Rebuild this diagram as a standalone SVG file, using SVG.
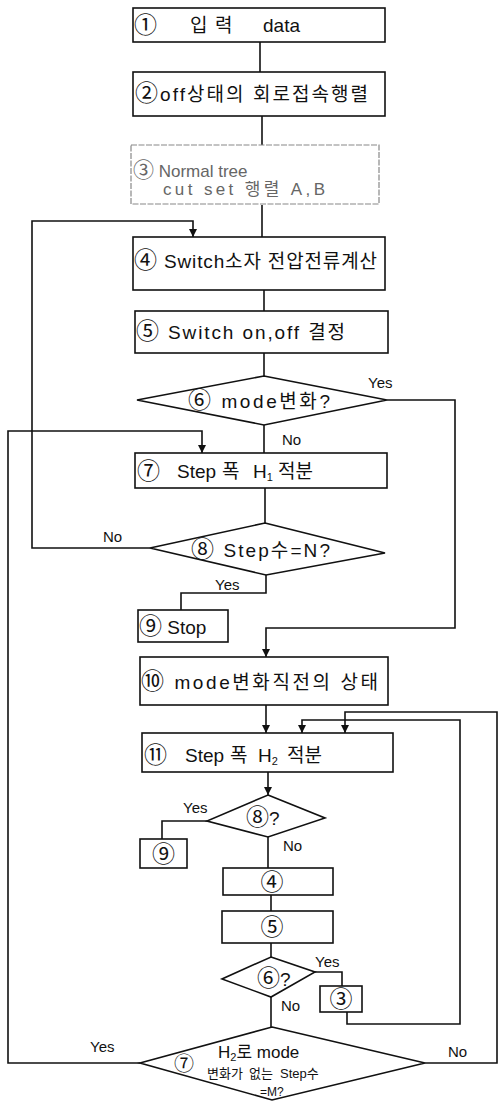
<svg xmlns="http://www.w3.org/2000/svg" width="500" height="1103" viewBox="0 0 500 1103">
<style>
.box{fill:#fff;stroke:#111;stroke-width:1.6}
.faint{fill:#fff;stroke:#888;stroke-width:1.2;stroke-dasharray:6 1.5}
.t{font-family:"Liberation Sans","Noto Sans CJK KR",sans-serif;font-size:19px;fill:#111}
.tf{font-family:"Liberation Sans","Noto Sans CJK KR",sans-serif;font-size:17px;fill:#666}
.n{font-family:"Noto Sans CJK KR",sans-serif;font-size:23px}
.lb{font-family:"Liberation Sans","Noto Sans CJK KR",sans-serif;font-size:15px;fill:#111}
.c{fill:none;stroke:#111;stroke-width:1.6}
.sub{font-size:11px}
</style>
<defs>
<marker id="ah" viewBox="0 0 10 10" refX="10" refY="5" markerWidth="8" markerHeight="8" markerUnits="userSpaceOnUse" orient="auto">
<path d="M0,0 L10,5 L0,10 z" fill="#111"/>
</marker>
</defs>

<g id="connectors">
<path class="c" d="M260 42 V72"/>
<path class="c" d="M262 116 V145"/>
<path class="c" d="M262 205 V237"/>
<path class="c" d="M264 290 V311"/>
<path class="c" d="M264 353 V376"/>
<path class="c" d="M264 425 V453"/>
<path class="c" d="M265 488 V523"/>
<path class="c" d="M150 548 H32 V221 H193 V237" marker-end="url(#ah)"/>
<path class="c" d="M140 1063 H8 V431 H202 V453" marker-end="url(#ah)"/>
<path class="c" d="M387 400 H455 V628 H266 V657" marker-end="url(#ah)"/>
<path class="c" d="M266 575 V593 H181 V610"/>
<path class="c" d="M266 705 V733" marker-end="url(#ah)"/>
<path class="c" d="M268 772 V795" marker-end="url(#ah)"/>
<path class="c" d="M207 821 H162 V839"/>
<path class="c" d="M268 837 V868"/>
<path class="c" d="M271 895 V911"/>
<path class="c" d="M271 943 V957"/>
<path class="c" d="M315 972 H342 V986"/>
<path class="c" d="M271 997 V1027"/>
<path class="c" d="M347 1012 V1024 H460 V720 H302 V733" marker-end="url(#ah)"/>
<path class="c" d="M425 1063 H497 V712 H345 V733" marker-end="url(#ah)"/>
<text class="lb" x="368" y="388">Yes</text>
<text class="lb" x="282" y="445">No</text>
<text class="lb" x="103" y="542">No</text>
<text class="lb" x="215" y="590">Yes</text>
<text class="lb" x="183" y="813">Yes</text>
<text class="lb" x="283" y="851">No</text>
<text class="lb" x="315" y="967">Yes</text>
<text class="lb" x="281" y="1011">No</text>
<text class="lb" x="90" y="1052">Yes</text>
<text class="lb" x="448" y="1057">No</text>
</g>

<g id="n1">
<rect class="box" x="133" y="8" width="252" height="34"/>
<text class="t n" x="134" y="33">①</text>
<text class="t" x="190" y="32">입</text>
<text class="t" x="215" y="32">력</text>
<text class="t" x="263" y="32">data</text>
</g>

<g id="n2">
<rect class="box" x="133" y="72" width="252" height="44"/>
<text class="t" x="135" y="101" textLength="233"><tspan class="n">②</tspan>off상태의 회로접속행렬</text>
</g>

<g id="n3">
<rect class="faint" x="131" y="145" width="248" height="59"/>
<text class="tf" x="133" y="177"><tspan class="n" style="font-size:21px">③</tspan> Normal tree</text>
<text class="tf" x="163" y="195" textLength="162">cut set 행렬 A,B</text>
</g>

<g id="n4">
<rect class="box" x="133" y="237" width="252" height="53"/>
<text class="t" x="134" y="268" textLength="243"><tspan class="n">④</tspan> Switch소자 전압전류계산</text>
</g>

<g id="n5">
<rect class="box" x="135" y="311" width="253" height="42"/>
<text class="t" x="136" y="339" textLength="209"><tspan class="n">⑤</tspan> Switch on,off 결정</text>
</g>

<g id="n6">
<polygon class="box" points="264,376 387,400 264,425 137,400"/>
<text class="t" x="188" y="408" textLength="142"><tspan class="n">⑥</tspan>  mode변화?</text>
</g>

<g id="n7">
<rect class="box" x="135" y="453" width="252" height="35"/>
<text class="t n" x="137" y="479">⑦</text>
<text class="t" x="177" y="478">Step</text>
<text class="t" x="222" y="478">폭</text>
<text class="t" x="253" y="478">H<tspan class="sub" dy="3">1</tspan></text>
<text class="t" x="278" y="478">적분</text>
</g>

<g id="n8">
<polygon class="box" points="265,523 385,553 266,575 150,548"/>
<text class="t" x="191" y="557" textLength="139"><tspan class="n">⑧</tspan> Step수=N?</text>
</g>

<g id="n9">
<rect class="box" x="138" y="610" width="90" height="32"/>
<text class="t" x="139" y="634"><tspan class="n">⑨</tspan> Stop</text>
</g>

<g id="n10">
<rect class="box" x="140" y="657" width="248" height="48"/>
<text class="t" x="141" y="689" textLength="237"><tspan class="n">⑩</tspan> mode변화직전의 상태</text>
</g>

<g id="n11">
<rect class="box" x="142" y="733" width="251" height="39"/>
<text class="t n" x="144" y="763">⑪</text>
<text class="t" x="185" y="762">Step</text>
<text class="t" x="230" y="762">폭</text>
<text class="t" x="258" y="762">H<tspan class="sub" dy="3">2</tspan></text>
<text class="t" x="287" y="762">적분</text>
</g>

<g id="n12">
<polygon class="box" points="268,795 325,818 268,837 207,821"/>
<text class="t" x="246" y="825"><tspan class="n">⑧</tspan>?</text>
</g>

<g id="n13">
<rect class="box" x="140" y="839" width="47" height="29"/>
<text class="t n" x="163.5" y="862" text-anchor="middle">⑨</text>
</g>

<g id="n14">
<rect class="box" x="223" y="868" width="110" height="27"/>
<text class="t n" x="272" y="890" text-anchor="middle">④</text>
</g>

<g id="n15">
<rect class="box" x="222" y="911" width="111" height="32"/>
<text class="t n" x="272" y="935" text-anchor="middle">⑤</text>
</g>

<g id="n16">
<polygon class="box" points="271,957 315,972 271,997 222,979"/>
<text class="t" x="257" y="986"><tspan class="n">⑥</tspan>?</text>
</g>

<g id="n17">
<rect class="box" x="320" y="986" width="42" height="26"/>
<text class="t n" x="341" y="1007" text-anchor="middle">③</text>
</g>

<g id="n18">
<polygon class="box" points="272,1027 425,1063 272,1100 140,1063"/>
<text class="t n" x="174" y="1071" style="font-size:20px">⑦</text>
<text class="t" x="218" y="1058" style="font-size:17px">H<tspan class="sub" dy="3">2</tspan><tspan dy="-3">로 mode</tspan></text>
<text class="t" style="font-size:13px"><tspan x="207" y="1078">변화가</tspan><tspan x="249" y="1078">없는</tspan><tspan x="280" y="1078">Step수</tspan></text>
<text class="t" x="260" y="1096" style="font-size:12px">=M?</text>
</g>
</svg>
